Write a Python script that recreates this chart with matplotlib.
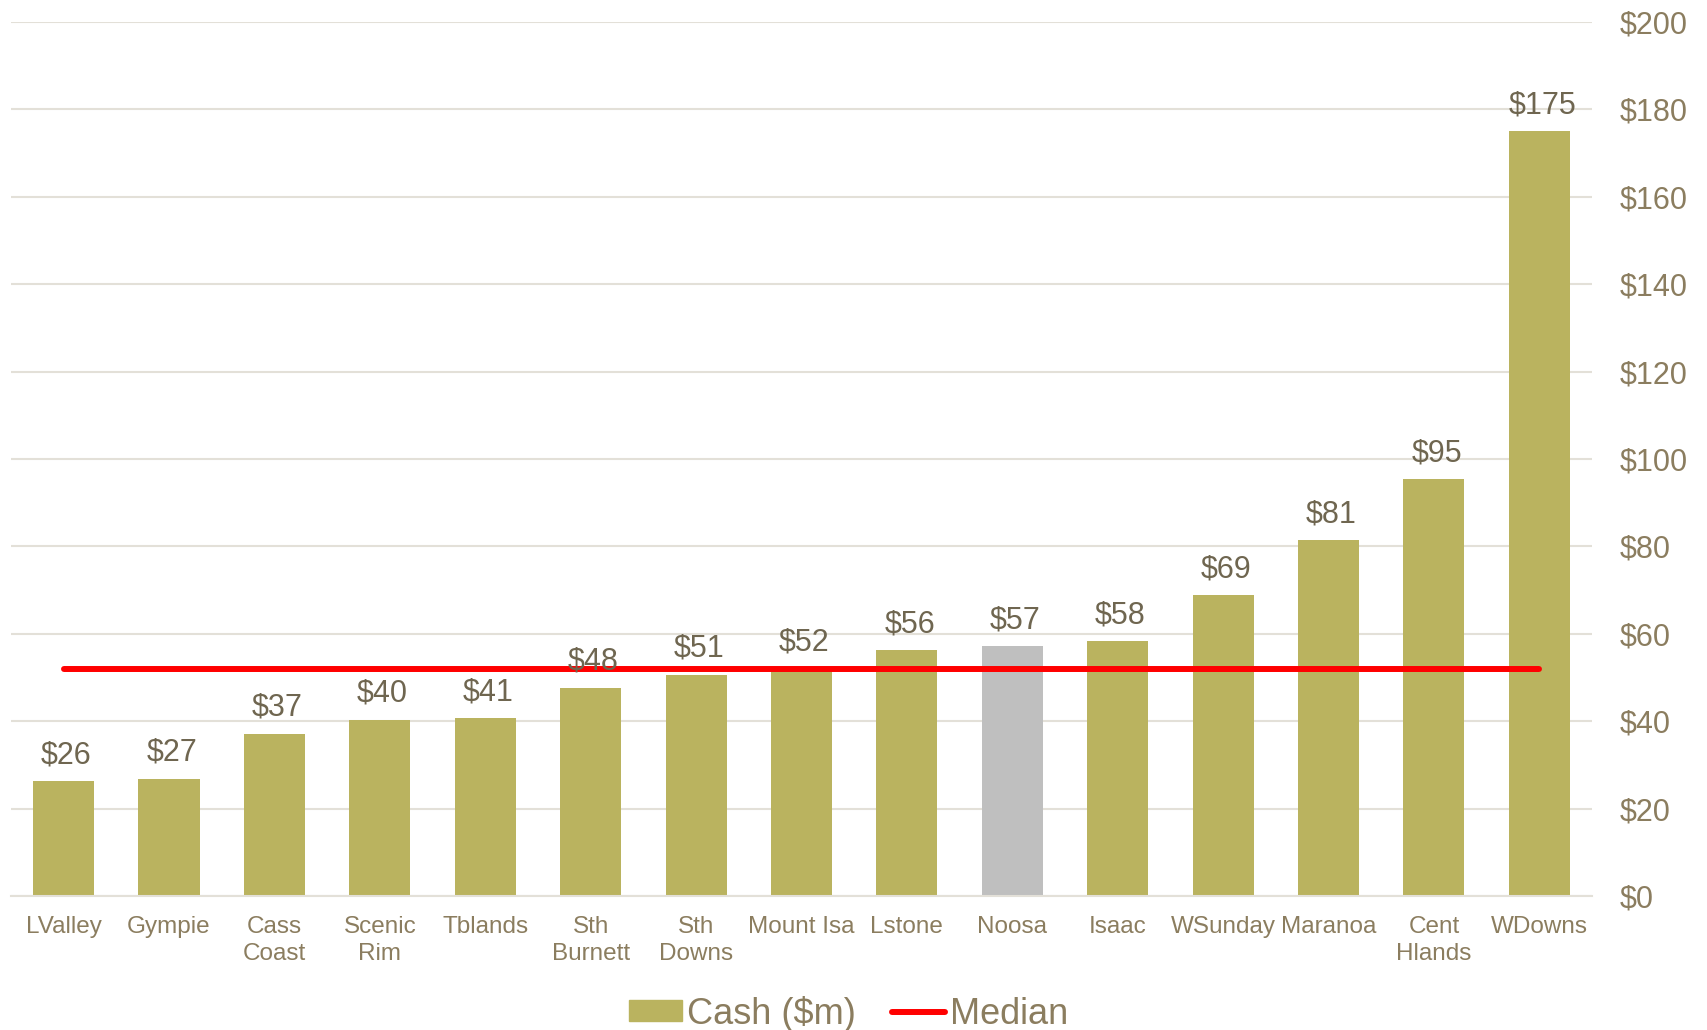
import matplotlib
matplotlib.use('Agg')
import matplotlib.pyplot as plt
from matplotlib.patches import Patch
from matplotlib.lines import Line2D

plt.rcParams['font.family'] = ['Liberation Sans', 'DejaVu Sans']

# --- data ---
councils = ['LValley', 'Gympie', 'Cass\nCoast', 'Scenic\nRim', 'Tblands', 'Sth\nBurnett',
            'Sth\nDowns', 'Mount Isa', 'Lstone', 'Noosa', 'Isaac', 'WSunday', 'Maranoa',
            'Cent\nHlands', 'WDowns']
cash = [26.3, 26.8, 37.2, 40.3, 40.7, 47.6, 50.6, 52.0, 56.2, 57.2, 58.3, 68.8, 81.4, 95.4, 175.0]
median = 52.0
highlight = 'Noosa'
yticks = [0, 20, 40, 60, 80, 100, 120, 140, 160, 180, 200]

bar_col = '#bab35f'
hi_col = '#bfbfbf'
tick_col = '#8b7d5f'
lab_col = '#6f6650'
grid_col = '#e3e0d8'

fig = plt.figure(figsize=(17.08, 10.30), dpi=100)
ax = fig.add_axes([0.0064, 0.130, 0.9257, 0.8486])

x = list(range(len(councils)))
colors = [hi_col if c.replace('\n', ' ') == highlight else bar_col for c in councils]
bars = ax.bar(x, cash, width=0.58, color=colors, zorder=2)

# data labels
for xi, v in zip(x, cash):
    ax.annotate(f'${v:.0f}', (xi, v), xytext=(2, 8), textcoords='offset points',
                ha='center', va='bottom', fontsize=22, color=lab_col, zorder=4)

ax.plot([x[0], x[-1]], [median, median], color='#ff0000', lw=4.3, zorder=3,
        solid_capstyle='round')

ax.set_xlim(-0.5, len(councils) - 0.5)
ax.set_ylim(0, 200)
ax.set_yticks(yticks)
ax.set_yticklabels([f'${t}' for t in yticks])
ax.yaxis.tick_right()
ax.tick_params(axis='y', length=0, pad=20, labelsize=22, labelcolor=tick_col)
ax.set_xticks(x)
ax.set_xticklabels(councils, linespacing=1.3)
ax.tick_params(axis='x', length=0, pad=14, labelsize=17.5, labelcolor=tick_col)
for lbl in ax.get_yticklabels():
    lbl.set_horizontalalignment('left')

ax.grid(axis='y', color=grid_col, lw=1.5, zorder=0)
for s in ['top', 'left', 'right']:
    ax.spines[s].set_visible(False)
ax.spines['bottom'].set_color(grid_col)
ax.spines['bottom'].set_linewidth(1.5)

handles = [Patch(color=bar_col, label='Cash ($m)'),
           Line2D([], [], color='#ff0000', lw=4.3, solid_capstyle='round', label='Median')]
leg = fig.legend(handles=handles, loc='center', bbox_to_anchor=(0.497, 0.016), ncol=2,
                 frameon=False, fontsize=26, handlelength=1.45, handleheight=0.5,
                 handletextpad=0.15, columnspacing=1.0, labelcolor=tick_col,
                 borderaxespad=0, borderpad=0)

fig.savefig('out.png', dpi=100)
